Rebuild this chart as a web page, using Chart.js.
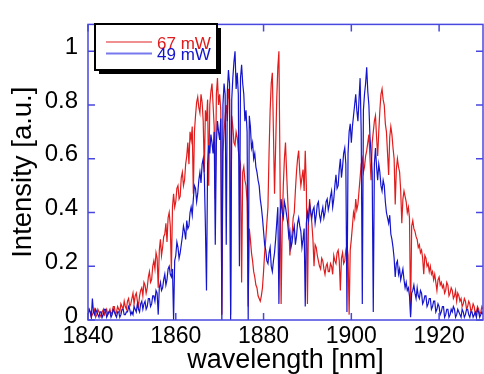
<!doctype html>
<html>

<head>
    <title>Spectrum</title>
    <script src="https://cdn.jsdelivr.net/npm/chart.js"></script>
</head>

<style>
    body {
        margin: 0;
        background: #fff;
    }
</style>

<body>
    <canvas id="espectro" width="484" height="374"></canvas>

    <script>
        // wavelength grid, 0.25 nm step from 1840 nm
        var nmStart = 1840;
        var nmStep = 0.25;

        var labels = ['67 mW', '49 mW'];
        var xTicks = [1840, 1860, 1880, 1900, 1920];
        var yTicks = [0, 0.2, 0.4, 0.6, 0.8, 1];

        // 67 mW (one row = 5 nm)
        var red = [
            0.02, 0.04, 0.03, 0.01, 0.02, 0.03, 0.04, 0.01, 0.02, 0.04, 0.03, 0.02, 0.01, 0.03, 0.04, 0.02, 0.03, 0.04, 0.02, 0.03,
            0.04, 0.02, 0.03, 0.05, 0.05, 0.02, 0.03, 0.05, 0.04, 0.03, 0.06, 0.05, 0.04, 0.07, 0.05, 0.04, 0.07, 0.08, 0.05, 0.06,
            0.08, 0.10, 0.06, 0.09, 0.10, 0.07, 0.05, 0.09, 0.11, 0.12, 0.09, 0.14, 0.13, 0.10, 0.12, 0.16, 0.18, 0.14, 0.15, 0.20,
            0.22, 0.19, 0.25, 0.23, 0.12, 0.26, 0.30, 0.24, 0.27, 0.31, 0.32, 0.36, 0.29, 0.38, 0.40, 0.35, 0.18, 0.42, 0.47, 0.42,
            0.44, 0.49, 0.50, 0.45, 0.46, 0.53, 0.55, 0.50, 0.52, 0.58, 0.61, 0.66, 0.58, 0.70, 0.67, 0.72, 0.47, 0.70, 0.76, 0.81,
            0.83, 0.79, 0.77, 0.84, 0.81, 0.74, 0.55, 0.78, 0.74, 0.82, 0.50, 0.80, 0.85, 0.88, 0.80, 0.72, 0.45, 0.84, 0.90, 0.80,
            0.84, 0.78, 0.02, 0.62, 0.70, 0.76, 0.80, 0.74, 0.86, 0.82, 0.02, 0.76, 0.72, 0.66, 0.65, 0.70, 0.68, 0.63, 0.60, 0.58,
            0.14, 0.55, 0.57, 0.52, 0.50, 0.44, 0.05, 0.34, 0.30, 0.25, 0.22, 0.18, 0.16, 0.13, 0.12, 0.09, 0.08, 0.07, 0.09, 0.12,
            0.18, 0.25, 0.30, 0.36, 0.42, 0.62, 0.78, 0.88, 0.92, 0.70, 0.47, 0.64, 0.82, 0.94, 1.00, 0.55, 0.06, 0.35, 0.50, 0.60,
            0.66, 0.55, 0.45, 0.36, 0.24, 0.30, 0.32, 0.38, 0.40, 0.48, 0.55, 0.60, 0.63, 0.55, 0.50, 0.53, 0.56, 0.48, 0.63, 0.50,
            0.06, 0.38, 0.45, 0.40, 0.36, 0.30, 0.20, 0.28, 0.27, 0.24, 0.22, 0.20, 0.19, 0.23, 0.22, 0.19, 0.17, 0.20, 0.21, 0.18,
            0.18, 0.21, 0.20, 0.17, 0.24, 0.22, 0.21, 0.25, 0.26, 0.22, 0.11, 0.23, 0.25, 0.21, 0.22, 0.26, 0.28, 0.24, 0.02, 0.26,
            0.30, 0.35, 0.40, 0.38, 0.45, 0.41, 0.43, 0.48, 0.53, 0.58, 0.60, 0.55, 0.57, 0.61, 0.63, 0.66, 0.69, 0.60, 0.52, 0.66,
            0.70, 0.74, 0.76, 0.68, 0.61, 0.70, 0.78, 0.84, 0.86, 0.82, 0.80, 0.73, 0.70, 0.62, 0.54, 0.68, 0.72, 0.69, 0.64, 0.60,
            0.43, 0.56, 0.60, 0.57, 0.55, 0.48, 0.36, 0.45, 0.48, 0.46, 0.44, 0.40, 0.42, 0.38, 0.02, 0.35, 0.37, 0.34, 0.33, 0.31,
            0.30, 0.27, 0.28, 0.25, 0.26, 0.23, 0.17, 0.24, 0.23, 0.20, 0.21, 0.18, 0.20, 0.17, 0.18, 0.15, 0.17, 0.14, 0.11, 0.15,
            0.16, 0.13, 0.14, 0.12, 0.13, 0.10, 0.11, 0.14, 0.13, 0.09, 0.10, 0.12, 0.11, 0.08, 0.09, 0.11, 0.07, 0.10, 0.09, 0.07,
            0.08, 0.05, 0.06, 0.08, 0.07, 0.04, 0.05, 0.07, 0.06, 0.03, 0.04, 0.06, 0.05, 0.02, 0.03, 0.05, 0.04, 0.02, 0.03, 0.05,
            0.04
        ];

        // 49 mW (one row = 5 nm)
        var blue = [
            0.02, 0.04, 0.03, 0.01, 0.08, 0.03, 0.02, 0.04, 0.03, 0.02, 0.01, 0.03, 0.03, 0.01, 0.02, 0.04, 0.04, 0.01, 0.02, 0.03,
            0.03, 0.01, 0.02, 0.04, 0.03, 0.02, 0.01, 0.03, 0.03, 0.01, 0.02, 0.04, 0.04, 0.02, 0.02, 0.03, 0.03, 0.05, 0.04, 0.02,
            0.03, 0.02, 0.05, 0.04, 0.03, 0.06, 0.04, 0.03, 0.06, 0.07, 0.04, 0.06, 0.07, 0.04, 0.05, 0.08, 0.08, 0.05, 0.06, 0.09,
            0.09, 0.07, 0.11, 0.10, 0.02, 0.12, 0.14, 0.11, 0.12, 0.15, 0.17, 0.13, 0.15, 0.19, 0.20, 0.17, 0.16, 0.19, 0.00, 0.22,
            0.24, 0.29, 0.27, 0.23, 0.25, 0.28, 0.31, 0.35, 0.33, 0.30, 0.37, 0.34, 0.35, 0.40, 0.42, 0.39, 0.45, 0.50, 0.49, 0.44,
            0.47, 0.52, 0.55, 0.51, 0.58, 0.60, 0.54, 0.35, 0.11, 0.58, 0.65, 0.62, 0.69, 0.66, 0.62, 0.70, 0.28, 0.66, 0.74, 0.70,
            0.67, 0.75, 0.00, 0.80, 0.88, 0.84, 0.28, 0.85, 0.93, 0.88, 0.00, 0.82, 0.90, 0.96, 1.00, 0.86, 0.92, 0.84, 0.20, 0.90,
            0.95, 0.88, 0.84, 0.74, 0.78, 0.70, 0.00, 0.76, 0.72, 0.64, 0.66, 0.60, 0.62, 0.57, 0.55, 0.52, 0.50, 0.45, 0.42, 0.38,
            0.33, 0.28, 0.26, 0.22, 0.21, 0.25, 0.27, 0.20, 0.18, 0.22, 0.25, 0.30, 0.36, 0.42, 0.06, 0.38, 0.45, 0.40, 0.38, 0.44,
            0.42, 0.39, 0.36, 0.31, 0.33, 0.27, 0.29, 0.33, 0.35, 0.28, 0.31, 0.36, 0.38, 0.35, 0.33, 0.27, 0.30, 0.34, 0.05, 0.36,
            0.40, 0.37, 0.43, 0.40, 0.38, 0.41, 0.42, 0.36, 0.39, 0.43, 0.44, 0.39, 0.37, 0.40, 0.42, 0.38, 0.40, 0.44, 0.45, 0.41,
            0.43, 0.46, 0.48, 0.42, 0.45, 0.50, 0.54, 0.49, 0.50, 0.56, 0.60, 0.53, 0.57, 0.62, 0.64, 0.58, 0.03, 0.62, 0.70, 0.73,
            0.66, 0.72, 0.76, 0.80, 0.84, 0.78, 0.74, 0.82, 0.90, 0.70, 0.06, 0.78, 0.84, 0.88, 0.94, 0.85, 0.80, 0.68, 0.62, 0.55,
            0.03, 0.58, 0.64, 0.57, 0.52, 0.58, 0.55, 0.50, 0.48, 0.52, 0.50, 0.44, 0.40, 0.38, 0.36, 0.39, 0.32, 0.30, 0.27, 0.23,
            0.16, 0.21, 0.22, 0.17, 0.19, 0.15, 0.17, 0.19, 0.15, 0.12, 0.14, 0.11, 0.12, 0.09, 0.01, 0.10, 0.11, 0.13, 0.10, 0.08,
            0.12, 0.09, 0.08, 0.11, 0.10, 0.06, 0.07, 0.09, 0.09, 0.05, 0.06, 0.08, 0.08, 0.04, 0.05, 0.07, 0.07, 0.03, 0.04, 0.06,
            0.05, 0.02, 0.03, 0.05, 0.05, 0.01, 0.02, 0.04, 0.04, 0.01, 0.02, 0.04, 0.03, 0.05, 0.04, 0.01, 0.02, 0.04, 0.03, 0.02,
            0.01, 0.04, 0.03, 0.01, 0.02, 0.04, 0.04, 0.02, 0.01, 0.03, 0.03, 0.01, 0.02, 0.03, 0.01, 0.04, 0.03, 0.01, 0.02, 0.03,
            0.02
        ];

        var corFrame = '#4848e0';
        var fonte = 'Liberation Sans, Arial, sans-serif';

        function pontos(valores) {
            return valores.map((v, i) => ({ x: nmStart + i * nmStep, y: v }));
        }

        // blue frame with inside ticks on all sides + boxed legend
        var moldura = {
            id: 'moldura',
            afterDatasetsDraw(chart) {
                var ctx = chart.ctx;
                var a = chart.chartArea;
                var sx = chart.scales.x;
                var sy = chart.scales.y;
                ctx.save();
                ctx.strokeStyle = corFrame;
                ctx.lineWidth = 1.5;
                ctx.strokeRect(a.left, a.top, a.right - a.left, a.bottom - a.top);
                ctx.beginPath();
                xTicks.forEach(t => {
                    var px = sx.getPixelForValue(t);
                    ctx.moveTo(px, a.bottom); ctx.lineTo(px, a.bottom - 7);
                    ctx.moveTo(px, a.top); ctx.lineTo(px, a.top + 7);
                });
                yTicks.forEach(t => {
                    var py = sy.getPixelForValue(t);
                    ctx.moveTo(a.left, py); ctx.lineTo(a.left + 7, py);
                    ctx.moveTo(a.right, py); ctx.lineTo(a.right - 7, py);
                });
                ctx.stroke();

                // legend
                var lx = a.left + 7, ly = 24, lw = 122, lh = 46;
                ctx.fillStyle = '#000';
                ctx.fillRect(lx + 4, ly + 4, lw, lh);
                ctx.fillStyle = '#fff';
                ctx.fillRect(lx, ly, lw, lh);
                ctx.strokeStyle = '#000';
                ctx.lineWidth = 2;
                ctx.strokeRect(lx, ly, lw, lh);

                ctx.font = '17px ' + fonte;
                ctx.textBaseline = 'alphabetic';
                ctx.textAlign = 'left';
                var linhas = [42, 53.5];
                var cores = ['#e02020', '#7878ee'];
                chart.data.datasets.forEach((ds, i) => {
                    ctx.strokeStyle = cores[i];
                    ctx.lineWidth = i == 0 ? 1.2 : 1.8;
                    ctx.beginPath();
                    ctx.moveTo(lx + 11, linhas[i]);
                    ctx.lineTo(lx + 57, linhas[i]);
                    ctx.stroke();
                    ctx.fillStyle = ds.borderColor;
                    ctx.fillText(ds.label, lx + 62, linhas[i] + 6.5);
                });
                ctx.restore();
            }
        };

        var grafico = new Chart(document.getElementById('espectro').getContext('2d'), {
            type: 'line',
            data: {
                datasets: [{
                    label: labels[0],
                    data: pontos(red),
                    borderColor: '#e01c1c',
                    borderWidth: 1.2,
                    pointRadius: 0,
                    order: 2
                }, {
                    label: labels[1],
                    data: pontos(blue),
                    borderColor: '#1414cc',
                    borderWidth: 1.2,
                    pointRadius: 0,
                    order: 1
                }]
            },
            options: {
                responsive: false,
                animation: false,
                devicePixelRatio: 1,
                layout: {
                    padding: { left: 0, right: 1, top: 15, bottom: 0 }
                },
                plugins: {
                    legend: { display: false },
                    tooltip: { enabled: false }
                },
                scales: {
                    x: {
                        type: 'linear',
                        min: 1840,
                        max: 1930,
                        grid: { display: false, drawTicks: false },
                        border: { display: false },
                        afterFit: s => { s.height = 54; },
                        afterBuildTicks: s => { s.ticks = xTicks.map(v => ({ value: v })); },
                        ticks: {
                            padding: 3,
                            color: '#000',
                            maxRotation: 0,
                            font: { family: fonte, size: 23 },
                            callback: v => String(v)
                        },
                        title: {
                            display: true,
                            text: 'wavelength [nm]',
                            color: '#000',
                            padding: 0,
                            font: { family: fonte, size: 27, lineHeight: 1 }
                        }
                    },
                    y: {
                        min: 0,
                        max: 1.1,
                        grid: { display: false, drawTicks: false },
                        border: { display: false },
                        afterFit: s => { s.width = 88; },
                        afterBuildTicks: s => { s.ticks = yTicks.map(v => ({ value: v })); },
                        ticks: {
                            padding: 10,
                            labelOffset: -4,
                            color: '#000',
                            font: { family: fonte, size: 24 },
                            callback: v => String(+v.toFixed(1))
                        },
                        title: {
                            display: true,
                            text: 'Intensity [a.u.]',
                            color: '#000',
                            padding: { top: 10 },
                            font: { family: fonte, size: 27.5, lineHeight: 1 }
                        }
                    }
                }
            },
            plugins: [moldura]
        });
    </script>
</body>

</html>
